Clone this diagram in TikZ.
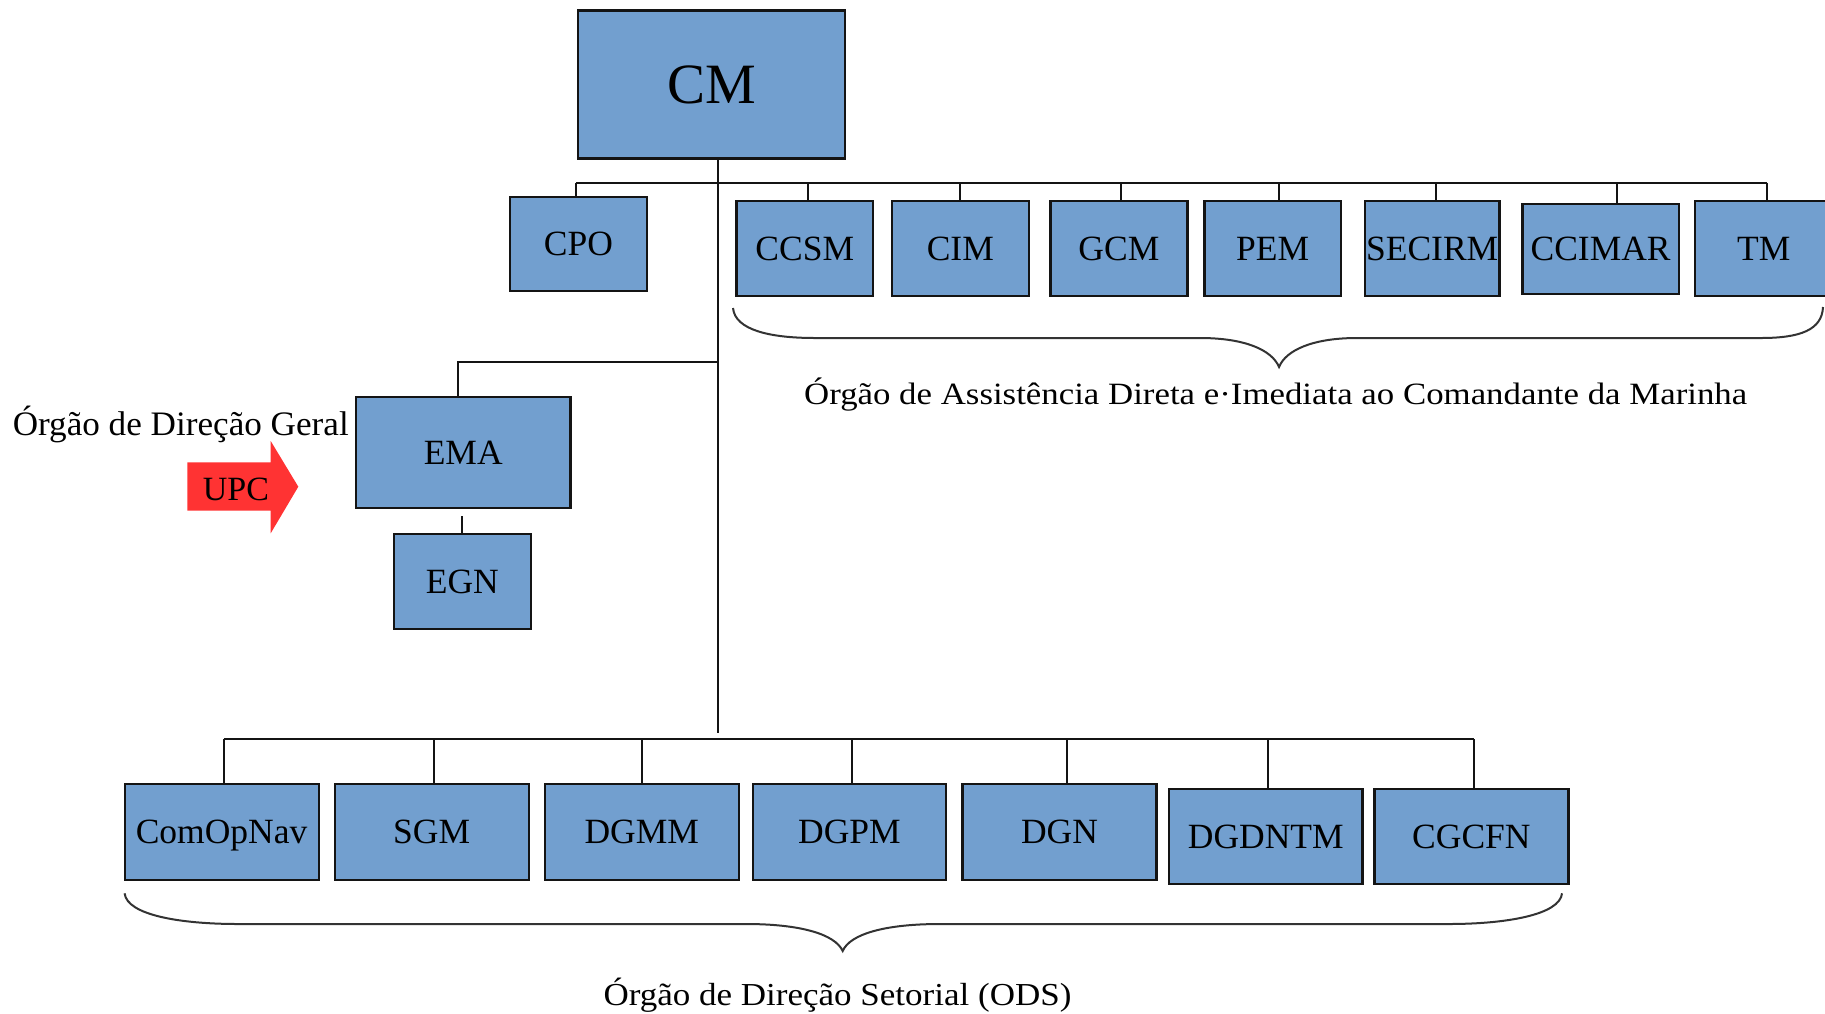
\documentclass[tikz,border=0pt]{standalone}
\usepackage{fontspec}
\usepackage{graphicx}
\setmainfont{Liberation Serif}
\definecolor{boxblue}{RGB}{114,159,207}
\definecolor{upcred}{RGB}{255,51,51}
\definecolor{edgecol}{RGB}{20,20,20}
\newcommand\bxfont{\fontsize{35.5pt}{40pt}\selectfont}
\newcommand\cmfont{\fontsize{57pt}{62pt}\selectfont}
\tikzset{
  orgbox/.style={draw=edgecol, line width=2.2pt, fill=boxblue, inner sep=0pt,
    font=\bxfont, text=black, text height=23.5pt, text depth=0pt,
    minimum width=137pt, minimum height=95pt},
  wide/.style={orgbox, minimum width=194pt},
  conn/.style={draw=edgecol, line width=2pt},
  bracepath/.style={draw=black!80, line width=2pt},
  lbl/.style={inner sep=0pt, text=black}
}
\begin{document}
\begin{tikzpicture}[x=1pt,y=-1pt]
\useasboundingbox (0,0) rectangle (1825,1013);
\clip (0,0) rectangle (1825,1013);
% top node
\node[orgbox, minimum width=267pt, minimum height=148pt, font=\cmfont, text height=38pt] (CM) at (711.5,84.4) {CM};
% first row
\node[orgbox, minimum height=94pt] (CPO) at (578.5,244) {CPO};
\node[orgbox, minimum width=136.5pt] (CCSM) at (804.8,248.5) {CCSM};
\node[orgbox] (CIM) at (960.3,248.5) {CIM};
\node[orgbox] (GCM) at (1118.9,248.5) {GCM};
\node[orgbox, minimum width=136.3pt] (PEM) at (1272.6,248.5) {PEM};
\node[orgbox, minimum width=134.5pt] (SECIRM) at (1432.2,248.5) {SECIRM};
\node[orgbox, minimum width=156.4pt, minimum height=90pt] (CCIMAR) at (1600.6,249) {CCIMAR};
\node[orgbox] (TM) at (1763.8,248.5) {TM};
% EMA and EGN
\node[orgbox, minimum width=214.5pt, minimum height=111pt] (EMA) at (463.2,452.5) {EMA};
\node[orgbox, minimum width=137.2pt] (EGN) at (462.4,581.5) {EGN};
% bottom row
\node[wide, minimum height=95.7pt] (ComOpNav) at (221.6,832.2) {ComOpNav};
\node[wide, minimum height=95.7pt] (SGM) at (431.7,832.2) {SGM};
\node[wide, minimum height=95.7pt] (DGMM) at (641.8,832.2) {DGMM};
\node[wide, minimum width=193.6pt, minimum height=95.7pt] (DGPM) at (849.4,832.2) {DGPM};
\node[wide, minimum height=95.7pt] (DGN) at (1059.5,832.2) {DGN};
\node[wide, minimum width=193.5pt, minimum height=94.7pt] (DGDNTM) at (1265.8,836.7) {DGDNTM};
\node[wide, minimum height=94.7pt] (CGCFN) at (1471.4,836.7) {CGCFN};
% junction coordinates
\coordinate (busL) at (575.8,182.7);
\coordinate (busR) at (1766.7,182.7);
\coordinate (emaJ) at (717.7,361.7);
\coordinate (odsend) at (717.7,733);
\coordinate (odsL) at (223.9,739.3);
\coordinate (odsR) at (1473.5,739.3);
% main trunk
\draw[conn] ([xshift=6.2pt]CM.south) -- (odsend);
% top bus
\draw[conn] (busL) -- (busR);
\draw[conn] (busL) -- (busL |- CPO.north);
\draw[conn] ([xshift=3pt]CCSM.north) -- ([xshift=3pt]CCSM.north |- busL);
\draw[conn] (CIM.north) -- (CIM.north |- busL);
\draw[conn] ([xshift=2.3pt]GCM.north) -- ([xshift=2.3pt]GCM.north |- busL);
\draw[conn] ([xshift=6.7pt]PEM.north) -- ([xshift=6.7pt]PEM.north |- busL);
\draw[conn] ([xshift=3.5pt]SECIRM.north) -- ([xshift=3.5pt]SECIRM.north |- busL);
\draw[conn] ([xshift=16.8pt]CCIMAR.north) -- ([xshift=16.8pt]CCIMAR.north |- busL);
\draw[conn] (busR) -- (busR |- TM.north);
% EMA branch
\draw[conn] (emaJ) -| ([xshift=-5.7pt]EMA.north);
\draw[conn] ([yshift=-7pt]EMA.south -| EGN.north) -- (EGN.north);
% bottom bus
\draw[conn] (odsL) -- (odsR);
\draw[conn] (odsL) -- (odsL |- ComOpNav.north);
\draw[conn] ([xshift=2.3pt]SGM.north) -- ([xshift=2.3pt]SGM.north |- odsL);
\draw[conn] (DGMM.north) -- (DGMM.north |- odsL);
\draw[conn] ([xshift=3pt]DGPM.north) -- ([xshift=3pt]DGPM.north |- odsL);
\draw[conn] ([xshift=7.5pt]DGN.north) -- ([xshift=7.5pt]DGN.north |- odsL);
\draw[conn] ([xshift=2.2pt]DGDNTM.north) -- ([xshift=2.2pt]DGDNTM.north |- odsL);
\draw[conn] (odsR) -- (odsR |- CGCFN.north);
% braces
\draw[bracepath] (733,308) .. controls (735,330) and (770,338) .. (815,338)
  -- (1200,338) .. controls (1245,338) and (1272,350) .. (1279,367)
  .. controls (1286,350) and (1313,338) .. (1357,338)
  -- (1761,338) .. controls (1800,338) and (1822,330) .. (1823,307);
\draw[bracepath] (124.6,893.3) .. controls (127,915) and (180,924) .. (238,924)
  -- (746,924) .. controls (800,924) and (835,934) .. (842.7,951)
  .. controls (850,934) and (885,924) .. (940,924)
  -- (1449,924) .. controls (1505,924) and (1560,915) .. (1562,893.3);
% labels
\node[lbl, anchor=base, font=\fontsize{31pt}{34pt}\selectfont] (oad) at (1275.7,404)
  {\resizebox{943pt}{\height}{Órgão de Assistência Direta e·Imediata ao Comandante da Marinha}};
\node[lbl, anchor=base west, font=\fontsize{34.3pt}{38pt}\selectfont] (odg) at (12.6,435)
  {\resizebox{336pt}{\height}{Órgão de Direção Geral}};
\node[lbl, anchor=base west, font=\fontsize{32pt}{36pt}\selectfont] (ods) at (603.3,1005)
  {\resizebox{468pt}{\height}{Órgão de Direção Setorial (ODS)}};
% UPC arrow
\fill[upcred] (187.3,462.3) -- (270.7,462.3) -- (270.7,441) -- (298.3,486.7)
  -- (270.7,533.3) -- (270.7,510.7) -- (187.3,510.7) -- cycle;
\node[lbl, font=\fontsize{34pt}{38pt}\selectfont, text height=22.5pt, text depth=0pt] (upc) at (236,489) {UPC};
\end{tikzpicture}
\end{document}
